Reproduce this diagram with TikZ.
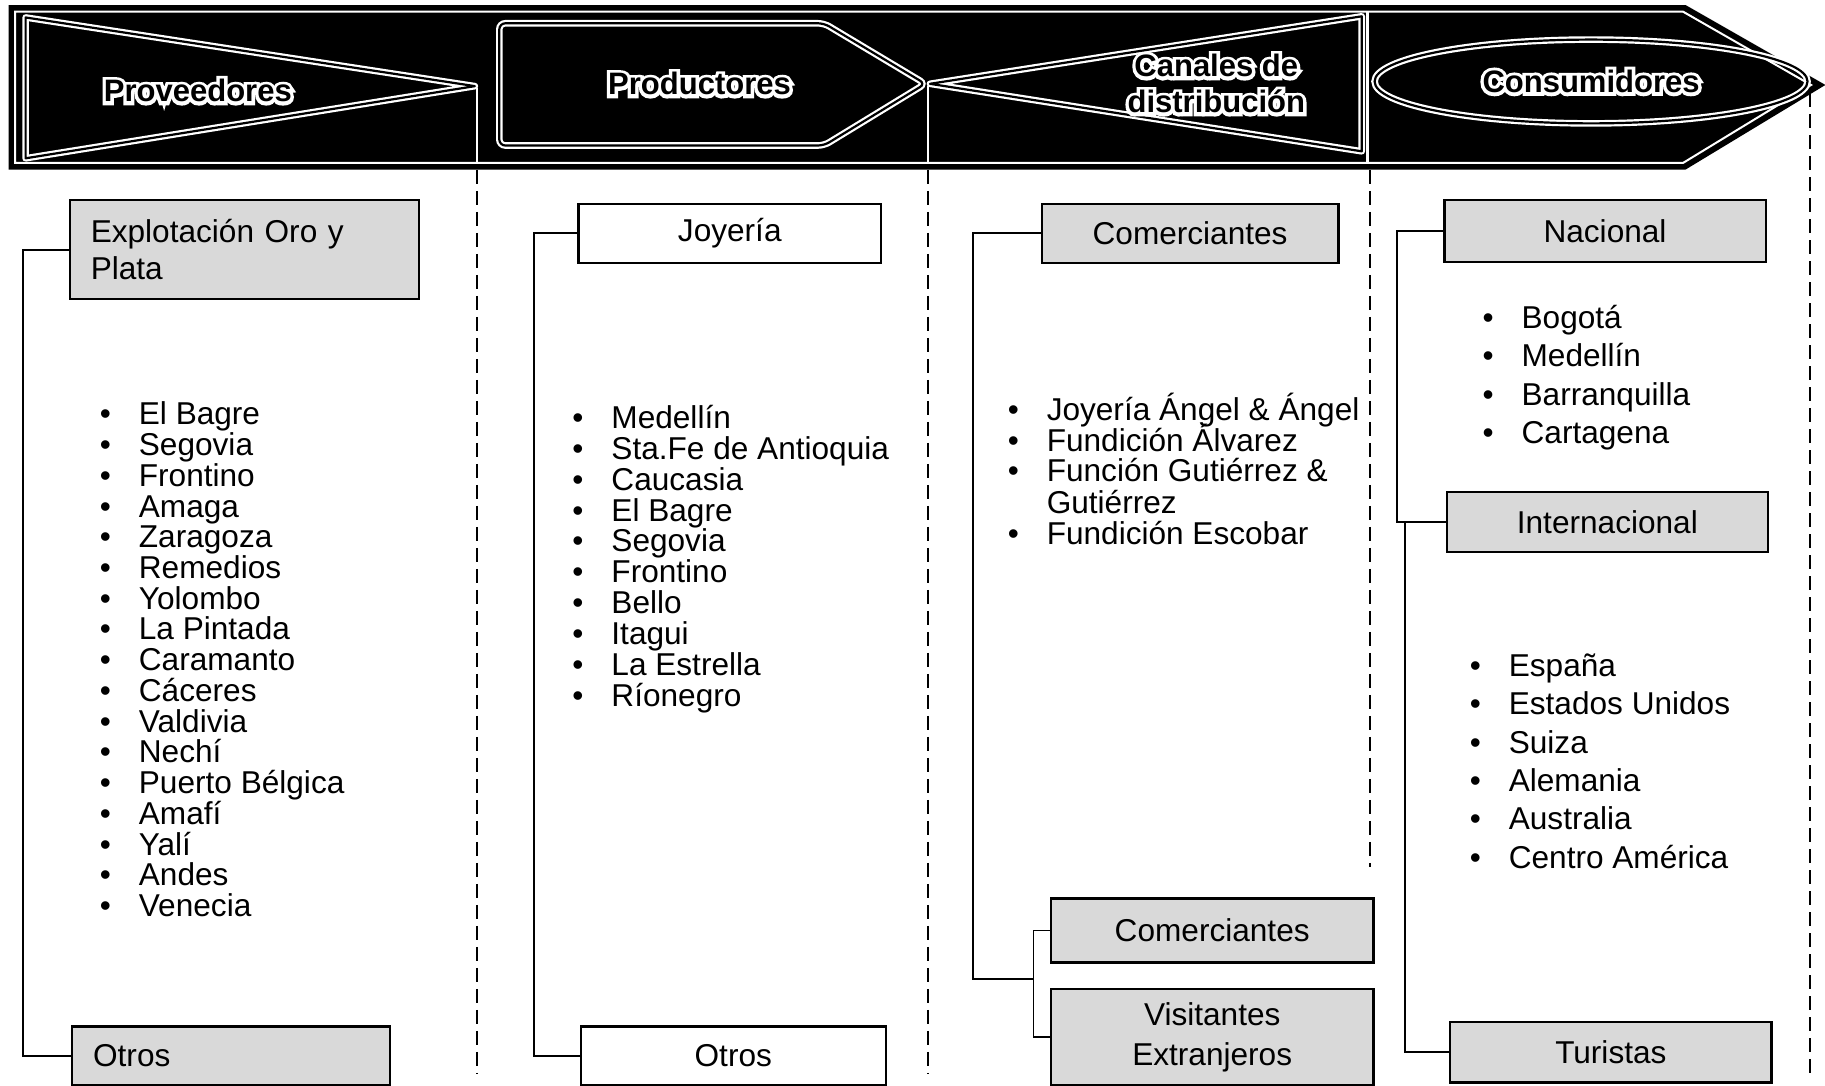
\documentclass[tikz,border=0pt]{standalone}
\usepackage{fontspec}
\setmainfont{Liberation Sans}
\newfontfamily\hdrout[FakeBold=22]{Liberation Sans Bold}
\newfontfamily\hdrin{Liberation Sans Bold}
\newcommand\olt[1]{\rlap{\hdrout\color{white}#1}{\hdrin\color{black}#1}}
\newcommand\upx{0.58195pt}
\newcommand\bul{\makebox[19.5pt][l]{•}}
\begin{document}
\begin{tikzpicture}[x=0.58195pt, y=-0.58195pt,
  font=\fontsize{15.8}{18.6}\selectfont,
  hdr/.style={font=\fontsize{15.5}{18}\selectfont, align=center, inner sep=0},
  bandline/.style={draw=white, line width=1.1pt, double=black, double distance=1.1pt},
  box/.style={draw=black, line width=1.1pt, inner sep=0},
  gbox/.style={box, fill=gray!30},
  wbox/.style={box, fill=white},
  itm/.style={anchor=base west, inner sep=0},
  sep/.style={draw=black, line width=0.9pt, dash pattern=on 7pt off 3.5pt},
  conn/.style={draw=black, line width=0.9pt}]
\useasboundingbox (0,0) rectangle (1568,933);
\fill[white] (0,0) rectangle (1568,933);

% ---- header band ----
\filldraw[fill=black, draw=black, line width=0.8pt] (8,5) -- (1448,5) -- (1567,73) -- (1448,145) -- (8,145) -- cycle;
\draw[white, line width=1pt] (13,10) -- (1446,10) -- (1556,73) -- (1446,140) -- (13,140) -- cycle;
\draw[white, line width=1pt] (410,76) -- (410,140);
\draw[white, line width=1pt] (797,74) -- (797,140);
\draw[white, line width=1.2pt] (1175,10) -- (1175,140);
% Proveedores pennant
\draw[bandline, line join=round] (22,15) -- (408,74) -- (22,136) -- cycle;
% Productores pentagon
\draw[bandline, rounded corners=3pt] (429,20) -- (708,20) -- (795,72) -- (708,125) -- (429,125) -- cycle;
% Canales triangle
\draw[bandline, line join=round] (799,72) -- (1170,14) -- (1170,130) -- cycle;
% Consumidores ellipse
\draw[bandline] (1367,70) ellipse [x radius=186, y radius=36];

\node[hdr] (hprov) at (170,78) {\olt{Proveedores}};
\node[hdr] (hprod) at (601,72) {\olt{Productores}};
\node[hdr] (hcan) at (1045,72) {\olt{Canales de}\\\olt{distribución}};
\node[hdr] (hcons) at (1367,70) {\olt{Consumidores}};

% ---- dashed separators ----
\draw[sep] (410,146) -- (410,922);
\draw[sep] (797,146) -- (797,922);
\draw[sep] (1177,146) -- (1177,745);
\draw[sep] (1555,80) -- (1555,922);

% ---- column 1 ----
\node[gbox, minimum width=300*\upx, minimum height=85*\upx, text width=264*\upx, align=left] (expl) at (210,214.5) {Explotación Oro y\\Plata};
\node[gbox, minimum width=273*\upx, minimum height=50*\upx, text width=237*\upx, align=left] (otr1) at (198.5,907) {Otros};
\draw[conn] (expl.west) -- (20,214.5) |- (otr1.west);
\foreach \t [count=\i from 0] in {El Bagre, Segovia, Frontino, Amaga, Zaragoza, Remedios, Yolombo, La Pintada, Caramanto, Cáceres, Valdivia, Nechí, Puerto Bélgica, Amafí, Yalí, Andes, Venecia}
  \node[itm] (pv\i) at (85.5, 365+\i*26.4) {\bul\t};

% ---- column 2 ----
\node[wbox, minimum width=260*\upx, minimum height=51*\upx] (joy) at (627,200.5) {Joyería};
\node[wbox, minimum width=262*\upx, minimum height=50*\upx] (otr2) at (630,907) {Otros};
\draw[conn] (joy.west) -- (459,200.5) |- (otr2.west);
\foreach \t [count=\i from 0] in {Medellín, Sta.Fe de Antioquia, Caucasia, El Bagre, Segovia, Frontino, Bello, Itagui, La Estrella, Ríonegro}
  \node[itm] (pr\i) at (491.5, 368+\i*26.55) {\bul\t};

% ---- column 3 ----
\node[gbox, minimum width=255*\upx, minimum height=51*\upx] (com1) at (1022.5,200.5) {Comerciantes};
\node[gbox, minimum width=277*\upx, minimum height=55*\upx] (com2) at (1041.5,799.5) {Comerciantes};
\node[gbox, minimum width=277*\upx, minimum height=82*\upx, align=center, font=\fontsize{15.8}{19.8}\selectfont] (vis) at (1041.5,891) {Visitantes\\Extranjeros};
\coordinate (j3) at (888,841);
\draw[conn] (com1.west) -- (836,200.5) |- (j3);
\draw[conn] (com2.west) -- (888,799.5) -- (888,891) -- (vis.west);
\node[itm] (cd1) at (865.5,361) {\bul Joyería Ángel \& Ángel};
\node[itm] (cd2) at (865.5,388) {\bul Fundición Álvarez};
\node[itm] (cd3) at (865.5,414) {\bul Función Gutiérrez \&};
\node[itm] (cd4) at (899,441) {Gutiérrez};
\node[itm] (cd5) at (865.5,468) {\bul Fundición Escobar};

% ---- column 4 ----
\node[gbox, minimum width=276*\upx, minimum height=53*\upx] (nac) at (1379,198.5) {Nacional};
\node[gbox, minimum width=276*\upx, minimum height=51*\upx] (int) at (1381,448.5) {Internacional};
\node[gbox, minimum width=276*\upx, minimum height=52*\upx] (tur) at (1384,904) {Turistas};
\draw[conn] (nac.west) -- (1200,198.5) |- (int.west);
\draw[conn] (1207,448.5) |- (tur.west);
\foreach \t [count=\i from 0] in {Bogotá, Medellín, Barranquilla, Cartagena}
  \node[itm] (na\i) at (1273.5, 282+\i*33) {\bul\t};
\foreach \t [count=\i from 0] in {España, Estados Unidos, Suiza, Alemania, Australia, Centro América}
  \node[itm] (in\i) at (1262.5, 581+\i*33) {\bul\t};
\end{tikzpicture}
\end{document}
